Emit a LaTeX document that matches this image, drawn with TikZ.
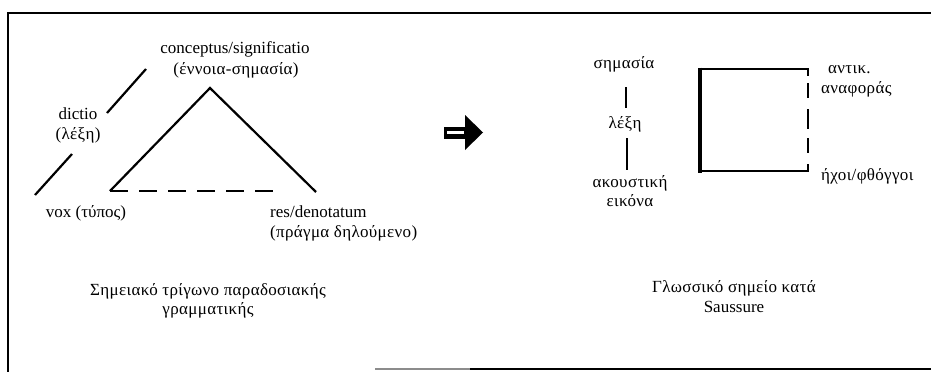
\documentclass[tikz,border=0pt]{standalone}
\usepackage{fontspec}
\setmainfont{Liberation Serif}
\newfontfamily\grsp[LetterSpace=2]{Liberation Serif}
\begin{document}
\begin{tikzpicture}[x=1pt,y=-1pt,
  lbl/.style={inner sep=0pt, anchor=base, font=\fontsize{17}{20}\selectfont},
  lblw/.style={lbl, anchor=base west},
  grlbl/.style={lbl, font=\fontsize{17}{20}\grsp},
  grlblw/.style={grlbl, anchor=base west},
  frame/.style={line width=2pt},
  solidline/.style={line width=2.2pt},
  dashline/.style={line width=2.6pt, dash pattern=on 18pt off 11pt}]
\useasboundingbox (0,0) rectangle (931,372);
% frame
\coordinate (ftl) at (6,13);
\coordinate (ftr) at (931,13);
\coordinate (fbl) at (8,372);
\coordinate (fbr) at (931,369);
\coordinate (fbm) at (375,369);
\coordinate (fbg) at (470,369);
\draw[frame] (ftr) -- (ftl -| fbl) -- (fbl);
\draw[line width=1.4pt, black!45] (fbm) -- (fbg);
\draw[line width=1.6pt] (fbg) -- (fbr);
% left diagram: triangle
\coordinate (apex) at (210,88);
\coordinate (voxc) at (110,191);
\coordinate (resc) at (316,192);
\coordinate (dashend) at (275,191);
\draw[solidline] (voxc) -- (apex) -- (resc);
\draw[dashline] (voxc) -- (dashend);
% dictio lines
\coordinate (d1a) at (107,113);
\coordinate (d1b) at (146,69);
\coordinate (d2a) at (35,195);
\coordinate (d2b) at (72,154);
\draw[solidline] (d1a) -- (d1b);
\draw[solidline] (d2a) -- (d2b);
% labels
\node[lbl] (concept) at (235,53) {conceptus/significatio};
\node[grlbl] (ennoia) at (236,74) {(έννοια-σημασία)};
\node[lbl] (dictio) at (78,119) {dictio};
\node[grlbl] (lexi1) at (78,139) {(λέξη)};
\node[lbl] (vox) at (86,217) {vox (τύπος)};
\node[lblw] (res) at (270,217) {res/denotatum};
\node[grlblw] (pragma) at (270,237) {(πράγμα δηλούμενο)};
\node[grlbl] (cap1a) at (208,295) {Σημειακό τρίγωνο παραδοσιακής};
\node[grlbl] (cap1b) at (208,314) {γραμματικής};
% block arrow
\coordinate (ahb1) at (465,115);
\coordinate (ahtip) at (483,132.5);
\coordinate (ahb2) at (465,150);
\coordinate (as1) at (444,127);
\coordinate (as2) at (466,139);
\fill (ahb1) -- (ahtip) -- (ahb2) -- cycle;
\fill (as1) rectangle (as2);
\coordinate (aw1) at (447,132.5);
\coordinate (aw2) at (464,132.5);
\draw[white, line width=2.5pt] (aw1) -- (aw2);
% right diagram
\node[grlbl] (simasia) at (624,68) {σημασία};
\node[grlbl] (lexi2) at (625,128) {λέξη};
\node[grlbl] (akoust) at (630,187) {ακουστική};
\node[grlbl] (eikona) at (630,206) {εικόνα};
\coordinate (v1a) at (626,87);
\coordinate (v1b) at (626,108);
\coordinate (v2a) at (627,138);
\coordinate (v2b) at (627,170);
\draw[solidline] (v1a) -- (v1b);
\draw[solidline] (v2a) -- (v2b);
% square
\coordinate (btl) at (700,69);
\coordinate (btr) at (808,69);
\coordinate (bbl) at (700,171);
\coordinate (bbr) at (808,171);
\coordinate (bltop) at (700,67.5);
\coordinate (blbot) at (700,172.5);
\coordinate (brtop) at (808,68);
\coordinate (brbot) at (808,172);
\draw[line width=3.2pt] (bltop) -- (blbot);
\draw[line width=2.2pt] (btl) -- (btr);
\draw[line width=2.2pt] (bbl) -- (bbr);
\draw[line width=2.4pt, dash pattern=on 8pt off 7pt on 15pt off 11pt on 20pt off 9pt on 15pt off 11pt on 9pt] (brtop) -- (brbot);
\node[grlblw] (antik) at (828,73) {αντικ.};
\node[grlblw] (anafor) at (821,93) {αναφοράς};
\node[grlblw] (ichoi) at (821,180) {ήχοι/φθόγγοι};
\node[grlbl] (cap2a) at (734,292) {Γλωσσικό σημείο κατά};
\node[lbl] (cap2b) at (734,312) {Saussure};
\end{tikzpicture}
\end{document}
